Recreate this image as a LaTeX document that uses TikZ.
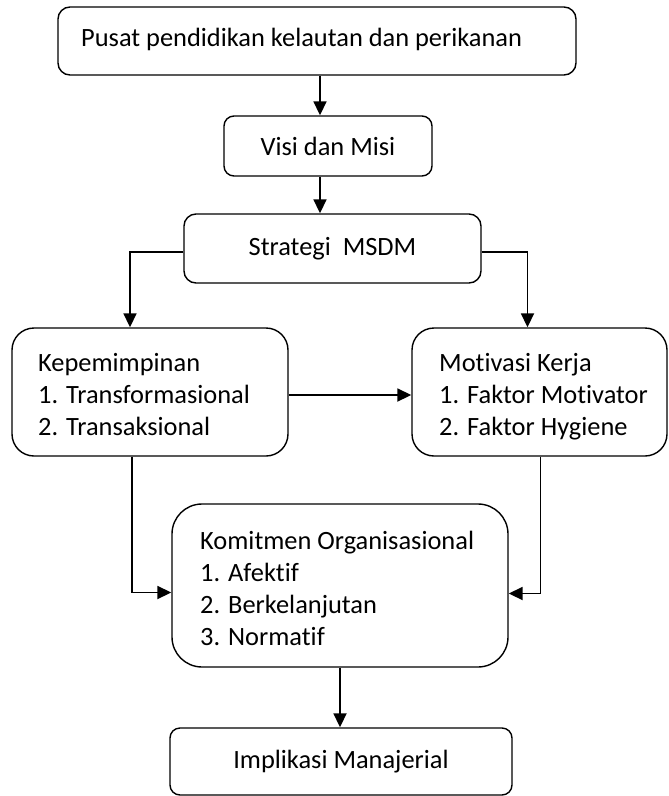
\documentclass[tikz,border=0pt]{standalone}
\usepackage{fontspec}
\setmainfont{Carlito}[Ligatures=NoCommon]
\usetikzlibrary{arrows.meta,calc}

\tikzset{
  box/.style={draw, line width=1.4pt, rounded corners=#1},
  box/.default=12pt,
  txt/.style={inner sep=0pt, align=left, font=\fontsize{26.4}{32}\selectfont},
  flow/.style={-{Triangle[length=14pt,width=13pt]}, line width=1.8pt}
}

\begin{document}
\begin{tikzpicture}[x=1pt,y=-1pt]
    \useasboundingbox (0,0) rectangle (669,796);

    % Top boxes
    \node[box, minimum width=518pt, minimum height=68pt] (pusat) at (317,41) {};
    \node[txt, anchor=base west] (pusatteks) at (81,46) {Pusat pendidikan kelautan dan perikanan};
    \node[box=10pt, txt, minimum width=208pt, minimum height=60pt] (visi) at (328,146) {Visi dan Misi};
    \node[box, txt, minimum width=297pt, minimum height=69pt] (strategi) at (332.5,248.5) {Strategi\ \ MSDM};

    % Middle boxes
    \node[box=22pt, minimum width=276pt, minimum height=128pt] (kep) at (150,392) {};
    \node[txt, anchor=north west] (kepteks) at (38,353) {Kepemimpinan\\1. Transformasional\\2. Transaksional};
    \node[box=22pt, minimum width=255pt, minimum height=128pt] (mot) at (539.5,392) {};
    \node[txt, anchor=north west] (motteks) at (439,353) {Motivasi Kerja\\1. Faktor Motivator\\2. Faktor Hygiene};

    % Bottom boxes
    \node[box=30pt, minimum width=336pt, minimum height=163pt] (kom) at (340,585.5) {};
    \node[txt, anchor=north west] (komteks) at (200,531) {Komitmen Organisasional\\1. Afektif\\2. Berkelanjutan\\3. Normatif};
    \node[box=10pt, txt, minimum width=342pt, minimum height=67pt] (impl) at (341,761.5) {Implikasi Manajerial};

    % Arrows
    \draw[flow] ([xshift=3pt]pusat.south) -- ([xshift=3pt]pusat.south |- visi.north);
    \draw[flow] ([xshift=-8pt]visi.south) -- ([xshift=-8pt]visi.south |- strategi.north);
    \draw[flow] ([yshift=-3.5pt]strategi.west) -| ([xshift=-20pt]kep.north);
    \draw[flow] ([yshift=-3.5pt]strategi.east) -| ([xshift=-12pt]mot.north);
    \draw[flow] ([yshift=-3pt]kep.east) -- ([yshift=-3pt]mot.west);
    \draw[flow] ([xshift=-18pt]kep.south) |- ([yshift=-7pt]kom.west);
    \draw[flow] ([xshift=1pt]mot.south) |- ([yshift=-8pt]kom.east);
    \draw[flow] (kom.south) -- (kom.south |- impl.north);
\end{tikzpicture}
\end{document}
